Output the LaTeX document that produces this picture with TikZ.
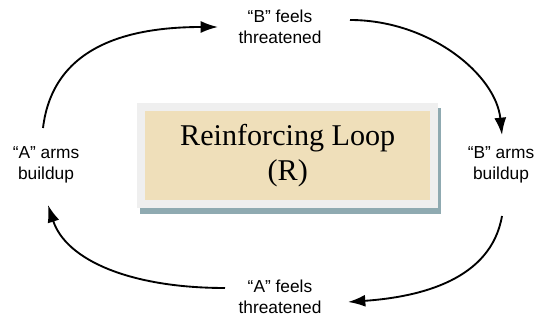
\documentclass[tikz,border=0pt]{standalone}
\usepackage{fontspec}
\setmainfont{Liberation Sans}
\newfontfamily\boxfont{Liberation Serif}
\usetikzlibrary{arrows.meta,calc}
\definecolor{framegray}{HTML}{EFEFEF}
\definecolor{shadowc}{HTML}{8FAAB1}
\definecolor{tanc}{HTML}{EFDFBA}
\tikzset{
  lbl/.style={align=center, inner sep=0pt, font=\fontsize{13pt}{15.5pt}\selectfont},
  loopbox/.style={rectangle, fill=tanc, draw=framegray, line width=6pt,
    minimum width=220pt, minimum height=72.75pt, inner sep=0pt, align=center,
    font=\boxfont\fontsize{22.6pt}{26pt}\selectfont},
  conn/.style={line width=1.4pt, -{Latex[length=13pt,width=9pt]}}
}
\begin{document}
\begin{tikzpicture}[x=0.75pt,y=-0.75pt]
\useasboundingbox (0,0) rectangle (537,320);
\fill[shadowc] (140,108) rectangle (441,214);
\node[loopbox] (box) at (287.75,155.5) {Reinforcing Loop\\(R)};
\node[lbl] (bfeels) at (280,27) {“B” feels\\threatened};
\node[lbl] (barms) at (501,165) {“B” arms\\buildup};
\node[lbl] (afeels) at (280,297) {“A” feels\\threatened};
\node[lbl] (aarms) at (46,165) {“A” arms\\buildup};
\draw[conn] ($(aarms)+(-3,-37)$) .. controls ($(aarms)+(7,-120)$) and ($(bfeels)+(-150,0)$) .. ($(bfeels)+(-62,0)$);
\draw[conn] ($(bfeels)+(70,-7)$) .. controls ($(bfeels)+(150,-7)$) and ($(barms)+(-5,-90)$) .. ($(barms)+(1,-30)$);
\draw[conn] ($(barms)+(1,51)$) .. controls ($(barms)+(-10,115)$) and ($(afeels)+(140,0)$) .. ($(afeels)+(68,5)$);
\draw[conn] ($(afeels)+(-55,-9)$) .. controls ($(afeels)+(-150,-9)$) and ($(aarms)+(20,95)$) .. ($(aarms)+(2,40)$);
\end{tikzpicture}
\end{document}
